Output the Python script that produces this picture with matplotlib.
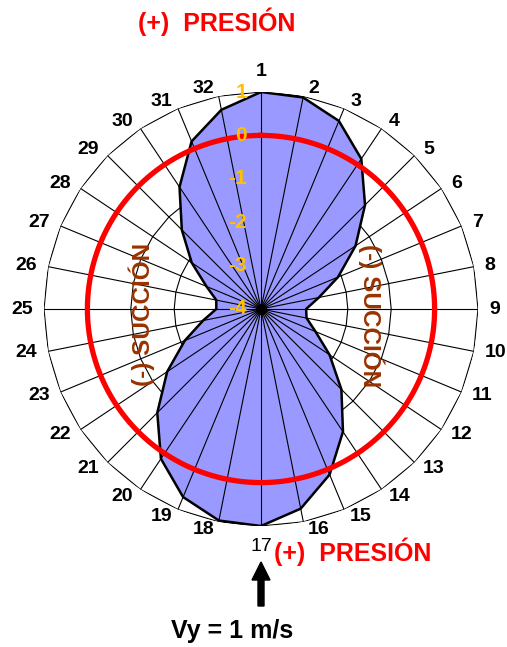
import numpy as np
import matplotlib
matplotlib.use('Agg')
import matplotlib.pyplot as plt

plt.rcParams['font.family'] = ['Liberation Sans', 'DejaVu Sans']

# datos del grafico radar (coeficiente de presion en 32 puntos)
puntos = [str(i) for i in range(1, 33)]
valores = [1.0, 0.97, 0.69, 0.16, -0.61, -1.38, -2.08, -2.64,
           -2.96, -2.93, -2.64, -2.10, -1.38, -0.60, 0.13, 0.69,
           1.0, 0.97, 0.69, 0.15, -0.62, -1.40, -2.10, -2.64,
           -2.97, -2.95, -2.64, -2.08, -1.42, -0.62, 0.18, 0.68]
niveles = [-4, -3, -2, -1, 0, 1]
nivel_rojo = 0
titulo = '(+)  PRESIÓN'
succion = '(-) SUCCIÓN'
velocidad = 'Vy = 1 m/s'

PX = 0.72  # puntos por pixel a 100 dpi

n = len(valores)
theta = np.linspace(0, 2 * np.pi, n, endpoint=False)
theta_c = np.append(theta, theta[0])
val_c = np.append(valores, valores[0])

fig = plt.figure(figsize=(5.07, 6.47), dpi=100)
ax = fig.add_axes([44 / 507, 121 / 647, 434 / 507, 434 / 647], projection='polar')
ax.set_theta_zero_location('N')
ax.set_theta_direction(-1)
ax.set_ylim(niveles[0], niveles[-1])
ax.grid(False)
ax.set_xticks([])
ax.set_yticks([])
ax.spines['polar'].set_visible(False)

# anillos poligonales
for lv in niveles[1:]:
    ax.plot(theta_c, [lv] * (n + 1), color='black', lw=0.8, zorder=1)

# area
ax.fill(theta_c, val_c, facecolor='#9999FF', edgecolor='none', zorder=2)

# radios
for t in theta:
    ax.plot([t, t], [niveles[0], niveles[-1]], color='black', lw=0.8, zorder=3)

ax.plot(theta_c, val_c, color='black', lw=1.8, zorder=4)

# circulo rojo
tt = np.linspace(0, 2 * np.pi, 400)
ax.plot(tt, [nivel_rojo] * len(tt), color='#FF0000', lw=3.8, zorder=5)
ax.plot([0], [niveles[0]], 'o', color='black', ms=7, zorder=6)

# etiquetas de los puntos (estilo excel: ancladas al extremo del radio)
for t, p in zip(theta, puntos):
    s, c = np.sin(t), np.cos(t)
    if abs(s) < 0.01:
        ha = 'center'
        va = 'bottom' if c > 0 else 'top'
        dx, dy = 0, 12 * np.sign(c)
    else:
        ha = 'left' if s > 0 else 'right'
        va = 'center'
        dx, dy = 8 * s + 3 * np.sign(s), 8 * c
    peso = 'normal' if p == '17' else 'bold'
    ax.annotate(p, xy=(t, niveles[-1]), xytext=(dx * PX, dy * PX),
                textcoords='offset points', ha=ha, va=va, fontsize=14,
                fontweight=peso, color='black', annotation_clip=False)

# etiquetas del eje radial
for lv in niveles:
    ax.annotate(str(lv), xy=(0, lv), xytext=(-14 * PX, 0),
                textcoords='offset points', ha='right', va='center',
                fontsize=15, fontweight='bold', color='#FFC000', zorder=7)

fig.text(217 / 507, 1 - 22 / 647, titulo, ha='center', va='center',
         fontsize=18, fontweight='bold', color='#FF0000')
fig.text(274 / 507, 1 - 552 / 647, titulo, ha='left', va='center',
         fontsize=18, fontweight='bold', color='#FF0000')
fig.text(142 / 507, 1 - 314 / 647, succion, ha='center', va='center',
         rotation=90, fontsize=17.5, fontweight='bold', color='#993300')
fig.text(371 / 507, 1 - 316 / 647, succion, ha='center', va='center',
         rotation=-90, fontsize=17.5, fontweight='bold', color='#993300')
fig.text(232 / 507, 1 - 631 / 647, velocidad, ha='center', va='center',
         fontsize=18, fontweight='bold', color='black')
fig.patches.append(matplotlib.patches.FancyArrow(
    261 / 507, 1 - 606 / 647, 0, 44 / 647, width=6 / 507, head_width=18 / 507,
    head_length=18 / 647, length_includes_head=True, color='black',
    transform=fig.transFigure, figure=fig))

fig.savefig('out.png', dpi=100)
